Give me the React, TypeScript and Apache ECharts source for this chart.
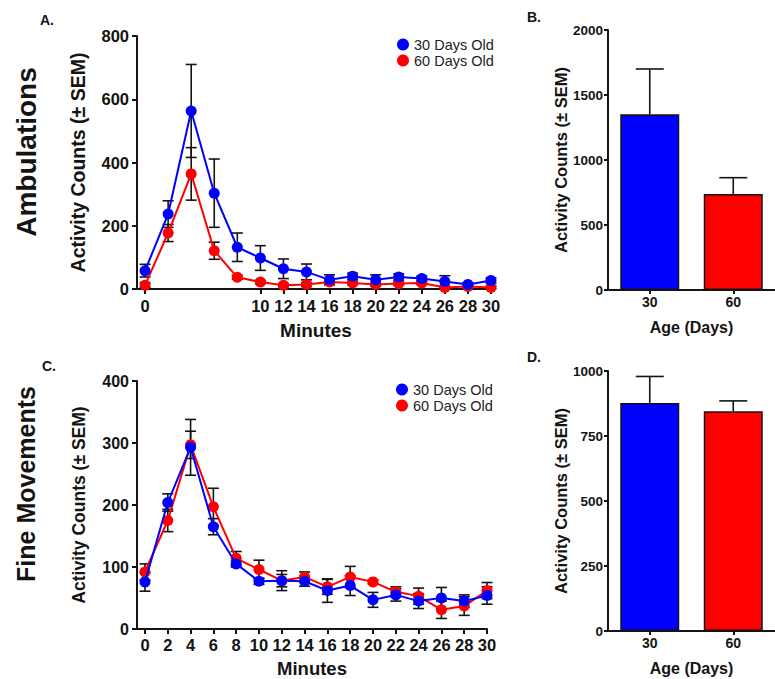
import React, { useEffect, useRef } from 'react';
import * as echarts from 'echarts';

// ---------- data ----------
const minutes = [0, 2, 4, 6, 8, 10, 12, 14, 16, 18, 20, 22, 24, 26, 28, 30];
const ambTickMinutes = [0, 10, 12, 14, 16, 18, 20, 22, 24, 26, 28, 30];

const amb30Mean = [58, 237, 563, 303, 132, 98, 64, 54, 29, 40, 29, 38, 33, 24, 14, 27];
const amb30Sem = [20, 42, 147, 108, 45, 39, 31, 25, 16, 10, 16, 10, 8, 18, 6, 8];
const amb60Mean = [12, 177, 364, 121, 37, 22, 12, 14, 22, 19, 14, 17, 19, 5, 8, 5];
const amb60Sem = [8, 27, 83, 27, 6, 5, 5, 6, 5, 5, 5, 5, 5, 4, 4, 4];
const sigMinutes = [4, 6];

const fine30Mean = [76, 204, 293, 165, 105, 77, 78, 77, 62, 70, 47, 55, 45, 50, 45, 54];
const fine30Sem = [15, 14, 45, 13, 5, 5, 16, 8, 19, 16, 12, 10, 12, 17, 10, 14];
const fine60Mean = [92, 175, 297, 197, 114, 96, 78, 84, 68, 84, 76, 60, 53, 31, 37, 62];
const fine60Sem = [13, 18, 22, 30, 11, 15, 10, 8, 12, 17, 3, 8, 13, 14, 15, 13];

const ageCategories = ['30', '60'];
const ambTotalMean = [1351, 738];
const ambTotalSem = [349, 126];
const fineTotalMean = [877, 845];
const fineTotalSem = [102, 40];

const seriesNames = ['30 Days Old', '60 Days Old'];
const BLUE = '#0000ff';
const RED = '#ff0000';
const INK = '#141414';
const FONT = 'Arial, Liberation Sans, sans-serif';

function errRender(both: boolean, half: number) {
  return (params: any, api: any) => {
    const x = api.value(0);
    const y = api.value(1);
    const e = api.value(2);
    const hi = api.coord([x, y + e]);
    const lo = both ? api.coord([x, y - e]) : api.coord([x, y]);
    const style = { stroke: INK, lineWidth: 1.6 };
    const children: any[] = [
      { type: 'line', shape: { x1: hi[0], y1: hi[1], x2: lo[0], y2: lo[1] }, style },
      { type: 'line', shape: { x1: hi[0] - half, y1: hi[1], x2: hi[0] + half, y2: hi[1] }, style },
    ];
    if (both) {
      children.push({ type: 'line', shape: { x1: lo[0] - half, y1: lo[1], x2: lo[0] + half, y2: lo[1] }, style });
    }
    return { type: 'group', children };
  };
}

function App() {
  const ref = useRef<HTMLDivElement>(null);
  useEffect(() => {
    document.body.style.margin = '0';
    const chart = echarts.init(ref.current!, null, { renderer: 'svg' });

    const axisLine = { show: true, onZero: false, lineStyle: { color: INK, width: 2 } };
    const tick = (len: number) => ({ show: true, length: len, lineStyle: { color: INK, width: 2 } });
    const plain = (v: any) => String(v);
    const lbl = (size: number, margin: number) => ({
      fontFamily: FONT, fontWeight: 'bold', fontSize: size, color: INK, margin,
    });
    const nameStyle = (size: number) => ({ fontFamily: FONT, fontWeight: 'bold', fontSize: size, color: INK });

    const pairs = (xs: number[], ys: number[]) => xs.map((x, i) => [x, ys[i]]);
    const triples = (xs: number[], ys: number[], es: number[]) => xs.map((x, i) => [x, ys[i], es[i]]);

    const lineSeries = (name: string, color: string, idx: number, ys: number[], z: number) => ({
      type: 'line', name, xAxisIndex: idx, yAxisIndex: idx, data: pairs(minutes, ys),
      symbol: 'circle', symbolSize: 11, itemStyle: { color }, lineStyle: { color, width: 2 }, z,
    });
    const errSeries = (idx: number, ys: number[], es: number[], z: number) => ({
      type: 'custom', xAxisIndex: idx, yAxisIndex: idx, data: triples(minutes, ys, es),
      renderItem: errRender(true, 5.5), encode: { x: 0, y: 1 }, clip: false, z, silent: true,
    });

    const sigIdx = sigMinutes.map((m) => minutes.indexOf(m));

    const legendBase = {
      data: seriesNames, orient: 'vertical', itemGap: 1,
      icon: 'circle', itemWidth: 12, itemHeight: 12,
      textStyle: { fontFamily: FONT, fontSize: 14.5, color: '#222' }, selectedMode: false,
    };

    const option: any = {
      animation: false,
      backgroundColor: '#ffffff',
      textStyle: { fontFamily: FONT },
      grid: [
        { left: 137, top: 36, width: 358, height: 253 },
        { left: 608, top: 30, width: 176, height: 260 },
        { left: 137, top: 381, width: 350, height: 250 },
        { left: 608, top: 371, width: 176, height: 260 },
      ],
      legend: [
        { ...legendBase, left: 392, top: 32 },
        { ...legendBase, left: 391, top: 377 },
      ],
      xAxis: [
        {
          gridIndex: 0, type: 'value', min: -0.7, max: 30.35,
          axisLine, axisTick: { ...tick(5), customValues: ambTickMinutes },
          axisLabel: { ...lbl(16.5, 8), customValues: ambTickMinutes, formatter: plain }, splitLine: { show: false },
          name: 'Minutes', nameLocation: 'middle', nameGap: 32, nameTextStyle: nameStyle(19),
        },
        {
          gridIndex: 1, type: 'category', data: ageCategories,
          axisLine, axisTick: { ...tick(4), alignWithLabel: true },
          axisLabel: lbl(14, 5), splitLine: { show: false },
          name: 'Age (Days)', nameLocation: 'middle', nameGap: 29, nameTextStyle: nameStyle(16),
        },
        {
          gridIndex: 2, type: 'value', min: -0.7, max: 30,
          axisLine, axisTick: { ...tick(5), customValues: minutes },
          axisLabel: { ...lbl(16.5, 7), customValues: minutes, formatter: plain }, splitLine: { show: false },
          name: 'Minutes', nameLocation: 'middle', nameGap: 30, nameTextStyle: nameStyle(18.5),
        },
        {
          gridIndex: 3, type: 'category', data: ageCategories,
          axisLine, axisTick: { ...tick(4), alignWithLabel: true },
          axisLabel: lbl(14, 5), splitLine: { show: false },
          name: 'Age (Days)', nameLocation: 'middle', nameGap: 29, nameTextStyle: nameStyle(16),
        },
      ],
      yAxis: [
        {
          gridIndex: 0, type: 'value', min: 0, max: 800, interval: 200,
          axisLine, axisTick: tick(5), axisLabel: { ...lbl(16.5, 8), formatter: plain }, splitLine: { show: false },
          name: 'Activity Counts (± SEM)', nameLocation: 'middle', nameGap: 49, nameTextStyle: nameStyle(19.5),
        },
        {
          gridIndex: 1, type: 'value', min: 0, max: 2000, interval: 500,
          axisLine, axisTick: tick(4), axisLabel: { ...lbl(13.5, 5), formatter: plain }, splitLine: { show: false },
          name: 'Activity Counts (± SEM)', nameLocation: 'middle', nameGap: 39, nameTextStyle: nameStyle(16.5),
        },
        {
          gridIndex: 2, type: 'value', min: 0, max: 400, interval: 100,
          axisLine, axisTick: tick(5), axisLabel: { ...lbl(16, 8), formatter: plain }, splitLine: { show: false },
          name: 'Activity Counts (± SEM)', nameLocation: 'middle', nameGap: 49, nameTextStyle: nameStyle(17.5),
        },
        {
          gridIndex: 3, type: 'value', min: 0, max: 1000, interval: 250,
          axisLine, axisTick: tick(4), axisLabel: { ...lbl(13.5, 5), formatter: plain }, splitLine: { show: false },
          name: 'Activity Counts (± SEM)', nameLocation: 'middle', nameGap: 39, nameTextStyle: nameStyle(16.5),
        },
      ],
      series: [
        // Panel A
        errSeries(0, amb60Mean, amb60Sem, 1),
        errSeries(0, amb30Mean, amb30Sem, 1),
        lineSeries(seriesNames[1], RED, 0, amb60Mean, 2),
        lineSeries(seriesNames[0], BLUE, 0, amb30Mean, 3),
        {
          type: 'scatter', xAxisIndex: 0, yAxisIndex: 0, silent: true,
          data: sigIdx.map((i) => [minutes[i], amb30Mean[i] + amb30Sem[i]]),
          symbolSize: 1, itemStyle: { opacity: 0 },
          label: {
            show: true, position: 'top', distance: 0, formatter: '*',
            fontFamily: FONT, fontSize: 22, fontWeight: 'bold', color: INK,
          },
        },
        // Panel B
        {
          type: 'bar', xAxisIndex: 1, yAxisIndex: 1, barWidth: 59,
          data: ambTotalMean.map((v, i) => ({ value: v, itemStyle: { color: i === 0 ? BLUE : RED } })),
          itemStyle: { borderColor: INK, borderWidth: 1.5 }, z: 2,
        },
        {
          type: 'custom', xAxisIndex: 1, yAxisIndex: 1, silent: true, clip: false, z: 3,
          data: ambTotalMean.map((v, i) => [i, v, ambTotalSem[i]]),
          renderItem: errRender(false, 14), encode: { x: 0, y: 1 },
        },
        // Panel C
        errSeries(2, fine60Mean, fine60Sem, 1),
        errSeries(2, fine30Mean, fine30Sem, 1),
        lineSeries(seriesNames[1], RED, 2, fine60Mean, 2),
        lineSeries(seriesNames[0], BLUE, 2, fine30Mean, 3),
        // Panel D
        {
          type: 'bar', xAxisIndex: 3, yAxisIndex: 3, barWidth: 59,
          data: fineTotalMean.map((v, i) => ({ value: v, itemStyle: { color: i === 0 ? BLUE : RED } })),
          itemStyle: { borderColor: INK, borderWidth: 1.5 }, z: 2,
        },
        {
          type: 'custom', xAxisIndex: 3, yAxisIndex: 3, silent: true, clip: false, z: 3,
          data: fineTotalMean.map((v, i) => [i, v, fineTotalSem[i]]),
          renderItem: errRender(false, 14), encode: { x: 0, y: 1 },
        },
      ],
      graphic: [
        {
          type: 'text', x: 26, y: 152, rotation: Math.PI / 2,
          style: { text: 'Ambulations', fontFamily: FONT, fontSize: 28, fontWeight: 'bold', fill: INK, align: 'center', verticalAlign: 'middle' },
        },
        {
          type: 'text', x: 26, y: 484, rotation: Math.PI / 2,
          style: { text: 'Fine Movements', fontFamily: FONT, fontSize: 25, fontWeight: 'bold', fill: INK, align: 'center', verticalAlign: 'middle' },
        },
        { type: 'text', x: 40, y: 13, style: { text: 'A.', fontFamily: FONT, fontSize: 14, fontWeight: 'bold', fill: INK } },
        { type: 'text', x: 527, y: 10, style: { text: 'B.', fontFamily: FONT, fontSize: 14, fontWeight: 'bold', fill: INK } },
        { type: 'text', x: 42, y: 359, style: { text: 'C.', fontFamily: FONT, fontSize: 14, fontWeight: 'bold', fill: INK } },
        { type: 'text', x: 527, y: 350, style: { text: 'D.', fontFamily: FONT, fontSize: 14, fontWeight: 'bold', fill: INK } },
      ],
    };
    chart.setOption(option);
    return () => chart.dispose();
  }, []);
  return <div ref={ref} style={{ width: 775, height: 679 }} />;
}

export default App;
